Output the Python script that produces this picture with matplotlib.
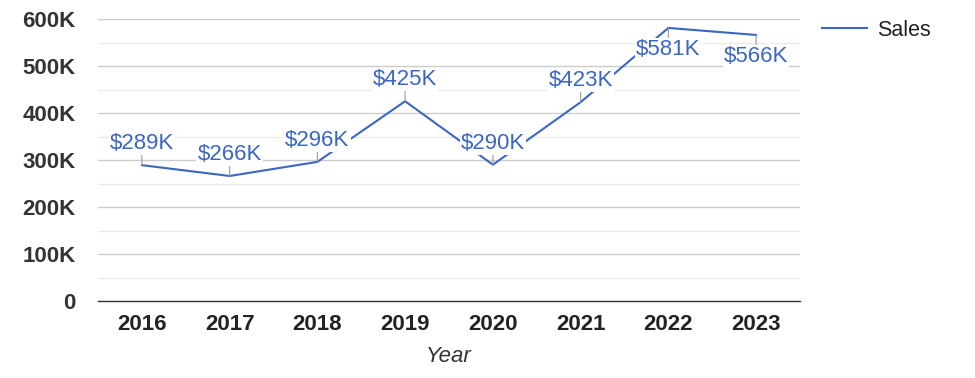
import matplotlib
matplotlib.use("Agg")
import matplotlib.pyplot as plt
from matplotlib.ticker import FuncFormatter, MultipleLocator

years = ["2016", "2017", "2018", "2019", "2020", "2021", "2022", "2023"]
sales = [289, 266, 296, 425, 290, 423, 581, 566]  # thousands of USD
below = [False, False, False, False, False, False, True, True]  # label placed under the point

BLUE = "#3a66c4"
plt.rcParams["font.family"] = ["Liberation Sans", "DejaVu Sans"]

fig = plt.figure(figsize=(9.75, 3.78), dpi=100)
ax = fig.add_axes([98 / 975, 1 - 301 / 378, 702 / 975, 282 / 378])

x = list(range(len(years)))
vals = [v * 1000 for v in sales]
line, = ax.plot(x, vals, color=BLUE, linewidth=1.5, label="Sales", zorder=2)

for xi, v, b in zip(x, vals, below):
    off = -8 if b else 8
    ax.annotate(
        f"${v // 1000}K", xy=(xi, v), xytext=(0, off), textcoords="offset points",
        ha="center", va="top" if b else "bottom", fontsize=16, color=BLUE,
        bbox=dict(boxstyle="square,pad=0.05", fc="white", ec="none"),
        arrowprops=dict(arrowstyle="-", color="#999999", lw=0.8, shrinkA=0, shrinkB=0),
        zorder=4,
    )

ax.set_xlim(-0.5, len(years) - 0.5)
ax.set_ylim(0, 600000)
ax.set_xticks(x)
ax.set_xticklabels(years)
ax.yaxis.set_major_locator(MultipleLocator(100000))
ax.yaxis.set_minor_locator(MultipleLocator(50000))
ax.yaxis.set_major_formatter(FuncFormatter(lambda v, p: "0" if v == 0 else f"{int(v / 1000)}K"))

ax.grid(axis="y", which="major", color="#cccccc", linewidth=1)
ax.grid(axis="y", which="minor", color="#ebebeb", linewidth=1)
ax.set_axisbelow(True)
for s in ["top", "right", "left"]:
    ax.spines[s].set_visible(False)
ax.spines["bottom"].set_color("#333333")
ax.spines["bottom"].set_linewidth(1)

ax.tick_params(axis="both", which="both", length=0)
ax.tick_params(axis="y", pad=16, labelsize=16, labelcolor="#333333")
ax.tick_params(axis="x", pad=9, labelsize=16, labelcolor="#222222")
for t in ax.get_xticklabels() + ax.get_yticklabels():
    t.set_fontweight("bold")

ax.set_xlabel("Year", fontsize=16, style="italic", color="#333333", labelpad=8)

fig.legend(handles=[line], loc="center left", bbox_to_anchor=(822 / 975, 1 - 30 / 378),
           frameon=False, fontsize=15.5, handlelength=2.1, handletextpad=0.45,
           borderpad=0, borderaxespad=0, labelcolor="#222222")

fig.savefig("out.png", dpi=100)
plt.close(fig)
